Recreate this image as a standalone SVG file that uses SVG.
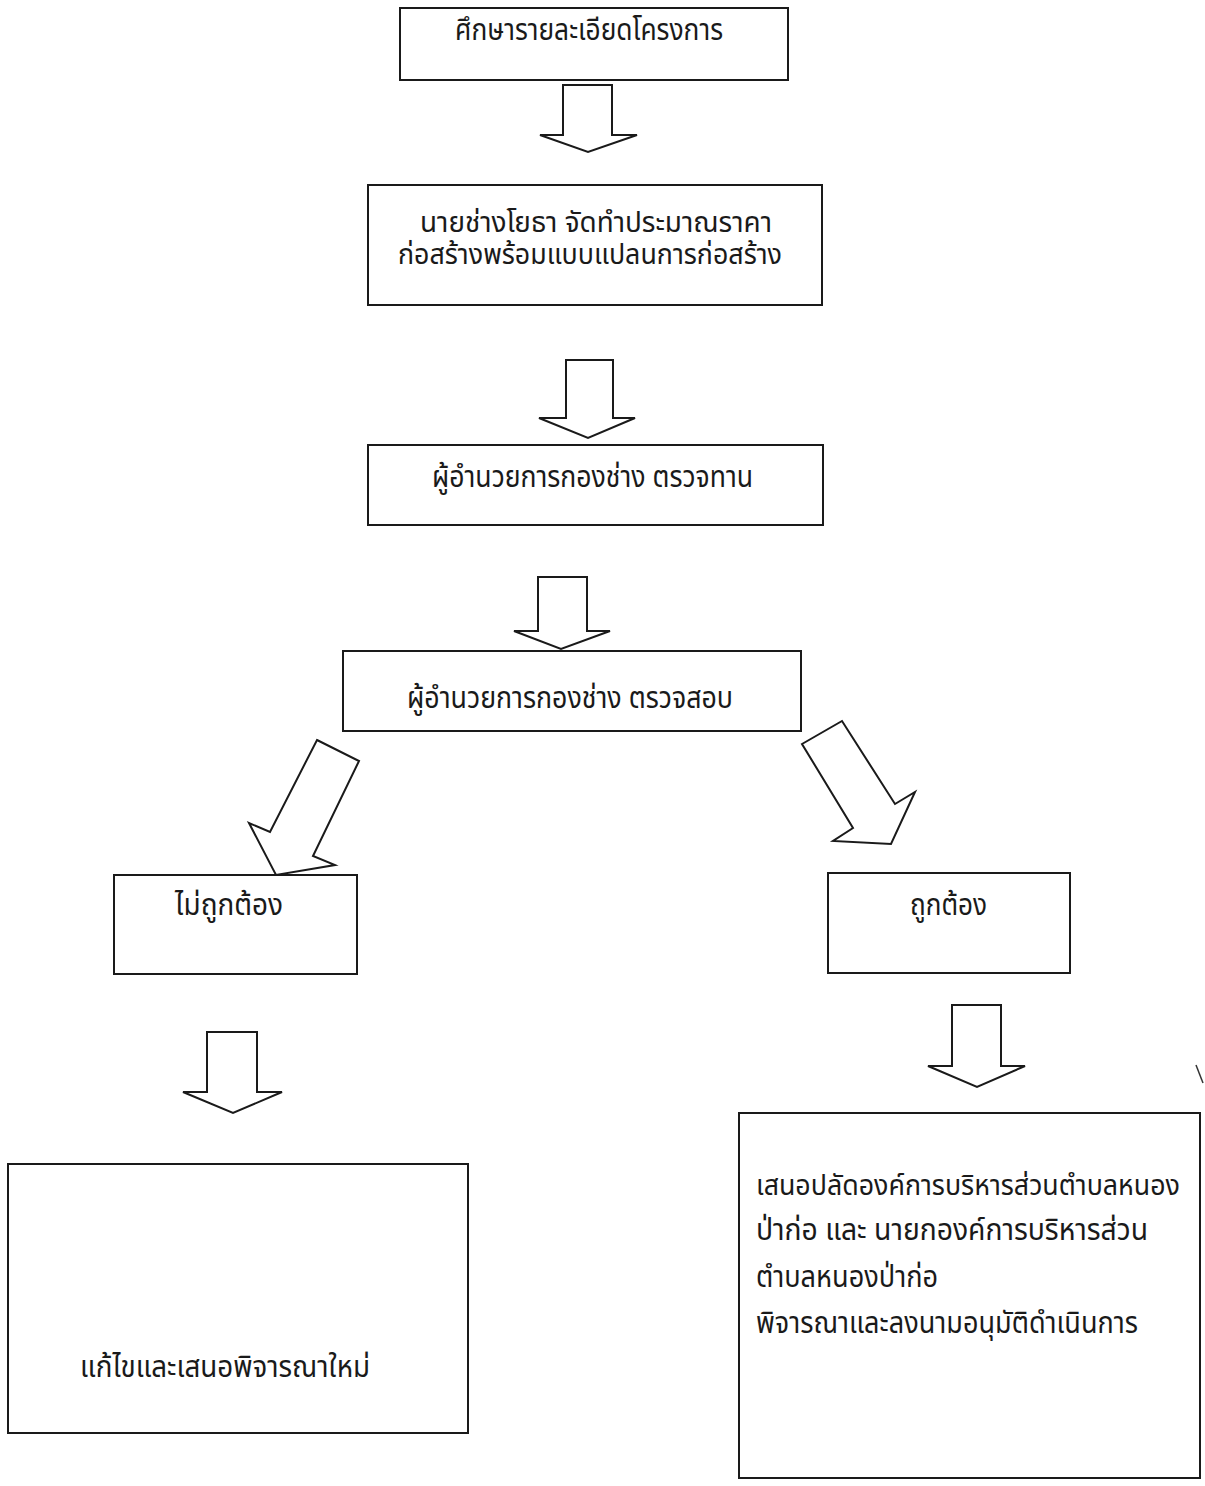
<svg xmlns="http://www.w3.org/2000/svg" width="1205" height="1486" viewBox="0 0 1205 1486">
<style>
.box{fill:none;stroke:#1a1a1a;stroke-width:2}
.arr{fill:#fff;stroke:#1a1a1a;stroke-width:2;stroke-linejoin:miter}
.t{font-family:"Noto Sans Thai","Noto Sans Thai UI","Loma","Garuda","Noto Sans","DejaVu Sans",sans-serif;font-size:31px;fill:#1a1a1a}
.t2{font-size:28px}
</style>
<rect width="1205" height="1486" fill="#fff"/>
<g id="connectors">
<polygon class="arr" points="563,85 612,85 612,135 637,135 588,152 540,135 563,135"/>
<polygon class="arr" points="566,360 613,360 613,418 635,418 588,438 539,418 566,418"/>
<polygon class="arr" points="538,577 587,577 587,631 610,631 561,649 514,631 538,631"/>
<polygon class="arr" points="317,740 359,761 313,856 335,865 276,875 249,823 270,832"/>
<polygon class="arr" points="802,744 842,721 895,804 915,792 891,844 833,841 853,828"/>
<polygon class="arr" points="207,1032 257,1032 257,1092 282,1092 233,1113 183,1092 207,1092"/>
<polygon class="arr" points="952,1005 1001,1005 1001,1066 1025,1066 977,1087 928,1066 952,1066"/>
</g>
<g id="n1">
<rect class="box" x="400" y="8" width="388" height="72"/>
<text class="t" x="455" y="40" textLength="268" lengthAdjust="spacingAndGlyphs">ศึกษารายละเอียดโครงการ</text>
</g>
<g id="n2">
<rect class="box" x="368" y="185" width="454" height="120"/>
<text class="t t2"><tspan x="420" y="232" textLength="352" lengthAdjust="spacingAndGlyphs">นายช่างโยธา จัดทำประมาณราคา</tspan><tspan x="398" y="264" textLength="384" lengthAdjust="spacingAndGlyphs">ก่อสร้างพร้อมแบบแปลนการก่อสร้าง</tspan></text>
</g>
<g id="n3">
<rect class="box" x="368" y="445" width="455" height="80"/>
<text class="t" x="432" y="487" textLength="321" lengthAdjust="spacingAndGlyphs">ผู้อำนวยการกองช่าง ตรวจทาน</text>
</g>
<g id="n4">
<rect class="box" x="343" y="651" width="458" height="80"/>
<text class="t" x="407" y="708" textLength="326" lengthAdjust="spacingAndGlyphs">ผู้อำนวยการกองช่าง ตรวจสอบ</text>
</g>
<g id="n5">
<rect class="box" x="114" y="875" width="243" height="99"/>
<text class="t" x="175" y="915" textLength="108" lengthAdjust="spacingAndGlyphs">ไม่ถูกต้อง</text>
</g>
<g id="n6">
<rect class="box" x="828" y="873" width="242" height="100"/>
<text class="t" x="910" y="915" textLength="77" lengthAdjust="spacingAndGlyphs">ถูกต้อง</text>
</g>
<g id="n7">
<rect class="box" x="8" y="1164" width="460" height="269"/>
<text class="t" x="80" y="1377" textLength="290" lengthAdjust="spacingAndGlyphs">แก้ไขและเสนอพิจารณาใหม่</text>
</g>
<g id="n8">
<rect class="box" x="739" y="1113" width="461" height="365"/>
<text class="t t2" x="756" y="1195" textLength="424" lengthAdjust="spacingAndGlyphs">เสนอปลัดองค์การบริหารส่วนตำบลหนอง</text>
<text class="t" x="756" y="1240" textLength="392" lengthAdjust="spacingAndGlyphs">ป่าก่อ และ  นายกองค์การบริหารส่วน</text>
<text class="t" x="756" y="1287" textLength="182" lengthAdjust="spacingAndGlyphs">ตำบลหนองป่าก่อ</text>
<text class="t" x="756" y="1333" textLength="382" lengthAdjust="spacingAndGlyphs">พิจารณาและลงนามอนุมัติดำเนินการ</text>
</g>
<line x1="1196" y1="1065" x2="1203" y2="1083" stroke="#333" stroke-width="1.5"/>
</svg>
